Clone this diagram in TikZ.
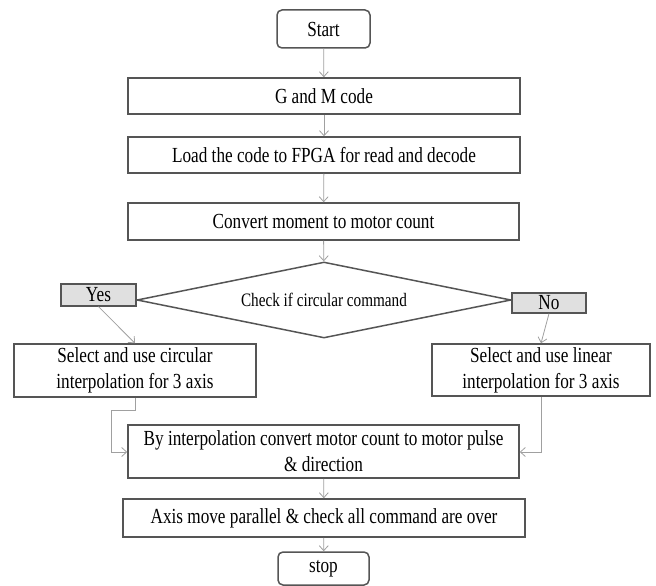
\documentclass[tikz,border=0pt]{standalone}
\usepackage{fontspec}
\setmainfont{Liberation Serif}[FakeStretch=0.8]
\usetikzlibrary{shapes.geometric,arrows.meta}
\definecolor{boxline}{RGB}{85,85,85}
\definecolor{arrowline}{RGB}{160,160,160}
\definecolor{tagfill}{RGB}{224,224,224}
\tikzset{
  stepbox/.style={draw=boxline, line width=1.5pt, fill=white, inner sep=0pt,
    align=center, font=\fontsize{21.5}{25.8}\selectfont},
  termbox/.style={stepbox, rounded corners=5pt},
  tagbox/.style={draw=boxline, line width=1.2pt, fill=tagfill, inner sep=0pt,
    font=\fontsize{21.5}{25.8}\selectfont},
  decide/.style={diamond, draw=boxline, line width=1.5pt, fill=white, inner sep=0pt,
    aspect=4.9, font=\fontsize{19}{22}\selectfont},
  flow/.style={draw=arrowline, line width=0.8pt, -{Straight Barb[length=5pt,width=9pt]}},
}
\begin{document}
\begin{tikzpicture}[x=1pt,y=-1pt]
\useasboundingbox (0,0) rectangle (656,586);
\node[termbox, minimum width=93pt, minimum height=38pt] (start) at (323.5,29) {Start};
\node[stepbox, minimum width=392pt, minimum height=36pt] (gm) at (324,96) {G and M code};
\node[stepbox, minimum width=392pt, minimum height=36pt] (load) at (324,155) {Load the code to FPGA for read and decode};
\node[stepbox, minimum width=391pt, minimum height=37pt] (conv) at (323.5,221.5) {Convert moment to motor count};
\node[decide, minimum width=374pt, minimum height=76pt] (dia) at (324,300) {Check if circular command};
\node[tagbox, minimum width=75pt, minimum height=22pt] (yes) at (98.5,295) {Yes};
\node[tagbox, minimum width=74pt, minimum height=20pt] (no) at (549,303) {No};
\node[stepbox, minimum width=242pt, minimum height=53pt] (circ) at (135,370.5) {Select and use circular\\interpolation for 3 axis};
\node[stepbox, minimum width=218pt, minimum height=52pt] (lin) at (541,370) {Select and use linear\\interpolation for 3 axis};
\node[stepbox, minimum width=391pt, minimum height=53pt] (by) at (323.5,451.5) {By interpolation convert motor count to motor pulse\\\& direction};
\node[stepbox, minimum width=402pt, minimum height=38pt] (axis) at (324,518) {Axis move parallel \& check all command are over};
\node[termbox, minimum width=91pt, minimum height=33pt] (stop) at (323.5,568.5) {stop};
\coordinate (lc1) at (135,410);
\coordinate (lc2) at (111,410);
\coordinate (lc3) at (111,452);
\coordinate (rc1) at (541,452);
\draw[flow] (start) -- (gm);
\draw[flow] (gm) -- (load);
\draw[flow] (load) -- (conv);
\draw[flow] (conv) -- (dia);
\draw[flow] (yes.south) -- (circ.north);
\draw[flow] (no.south) -- (lin.north);
\draw[flow] (circ.south) -- (lc1) -- (lc2) -- (lc3) -- (by.west |- lc3);
\draw[flow] (lin.south) -- (rc1) -- (by.east |- rc1);
\draw[flow] (by) -- (axis);
\draw[flow] (axis) -- (stop);
\end{tikzpicture}
\end{document}
